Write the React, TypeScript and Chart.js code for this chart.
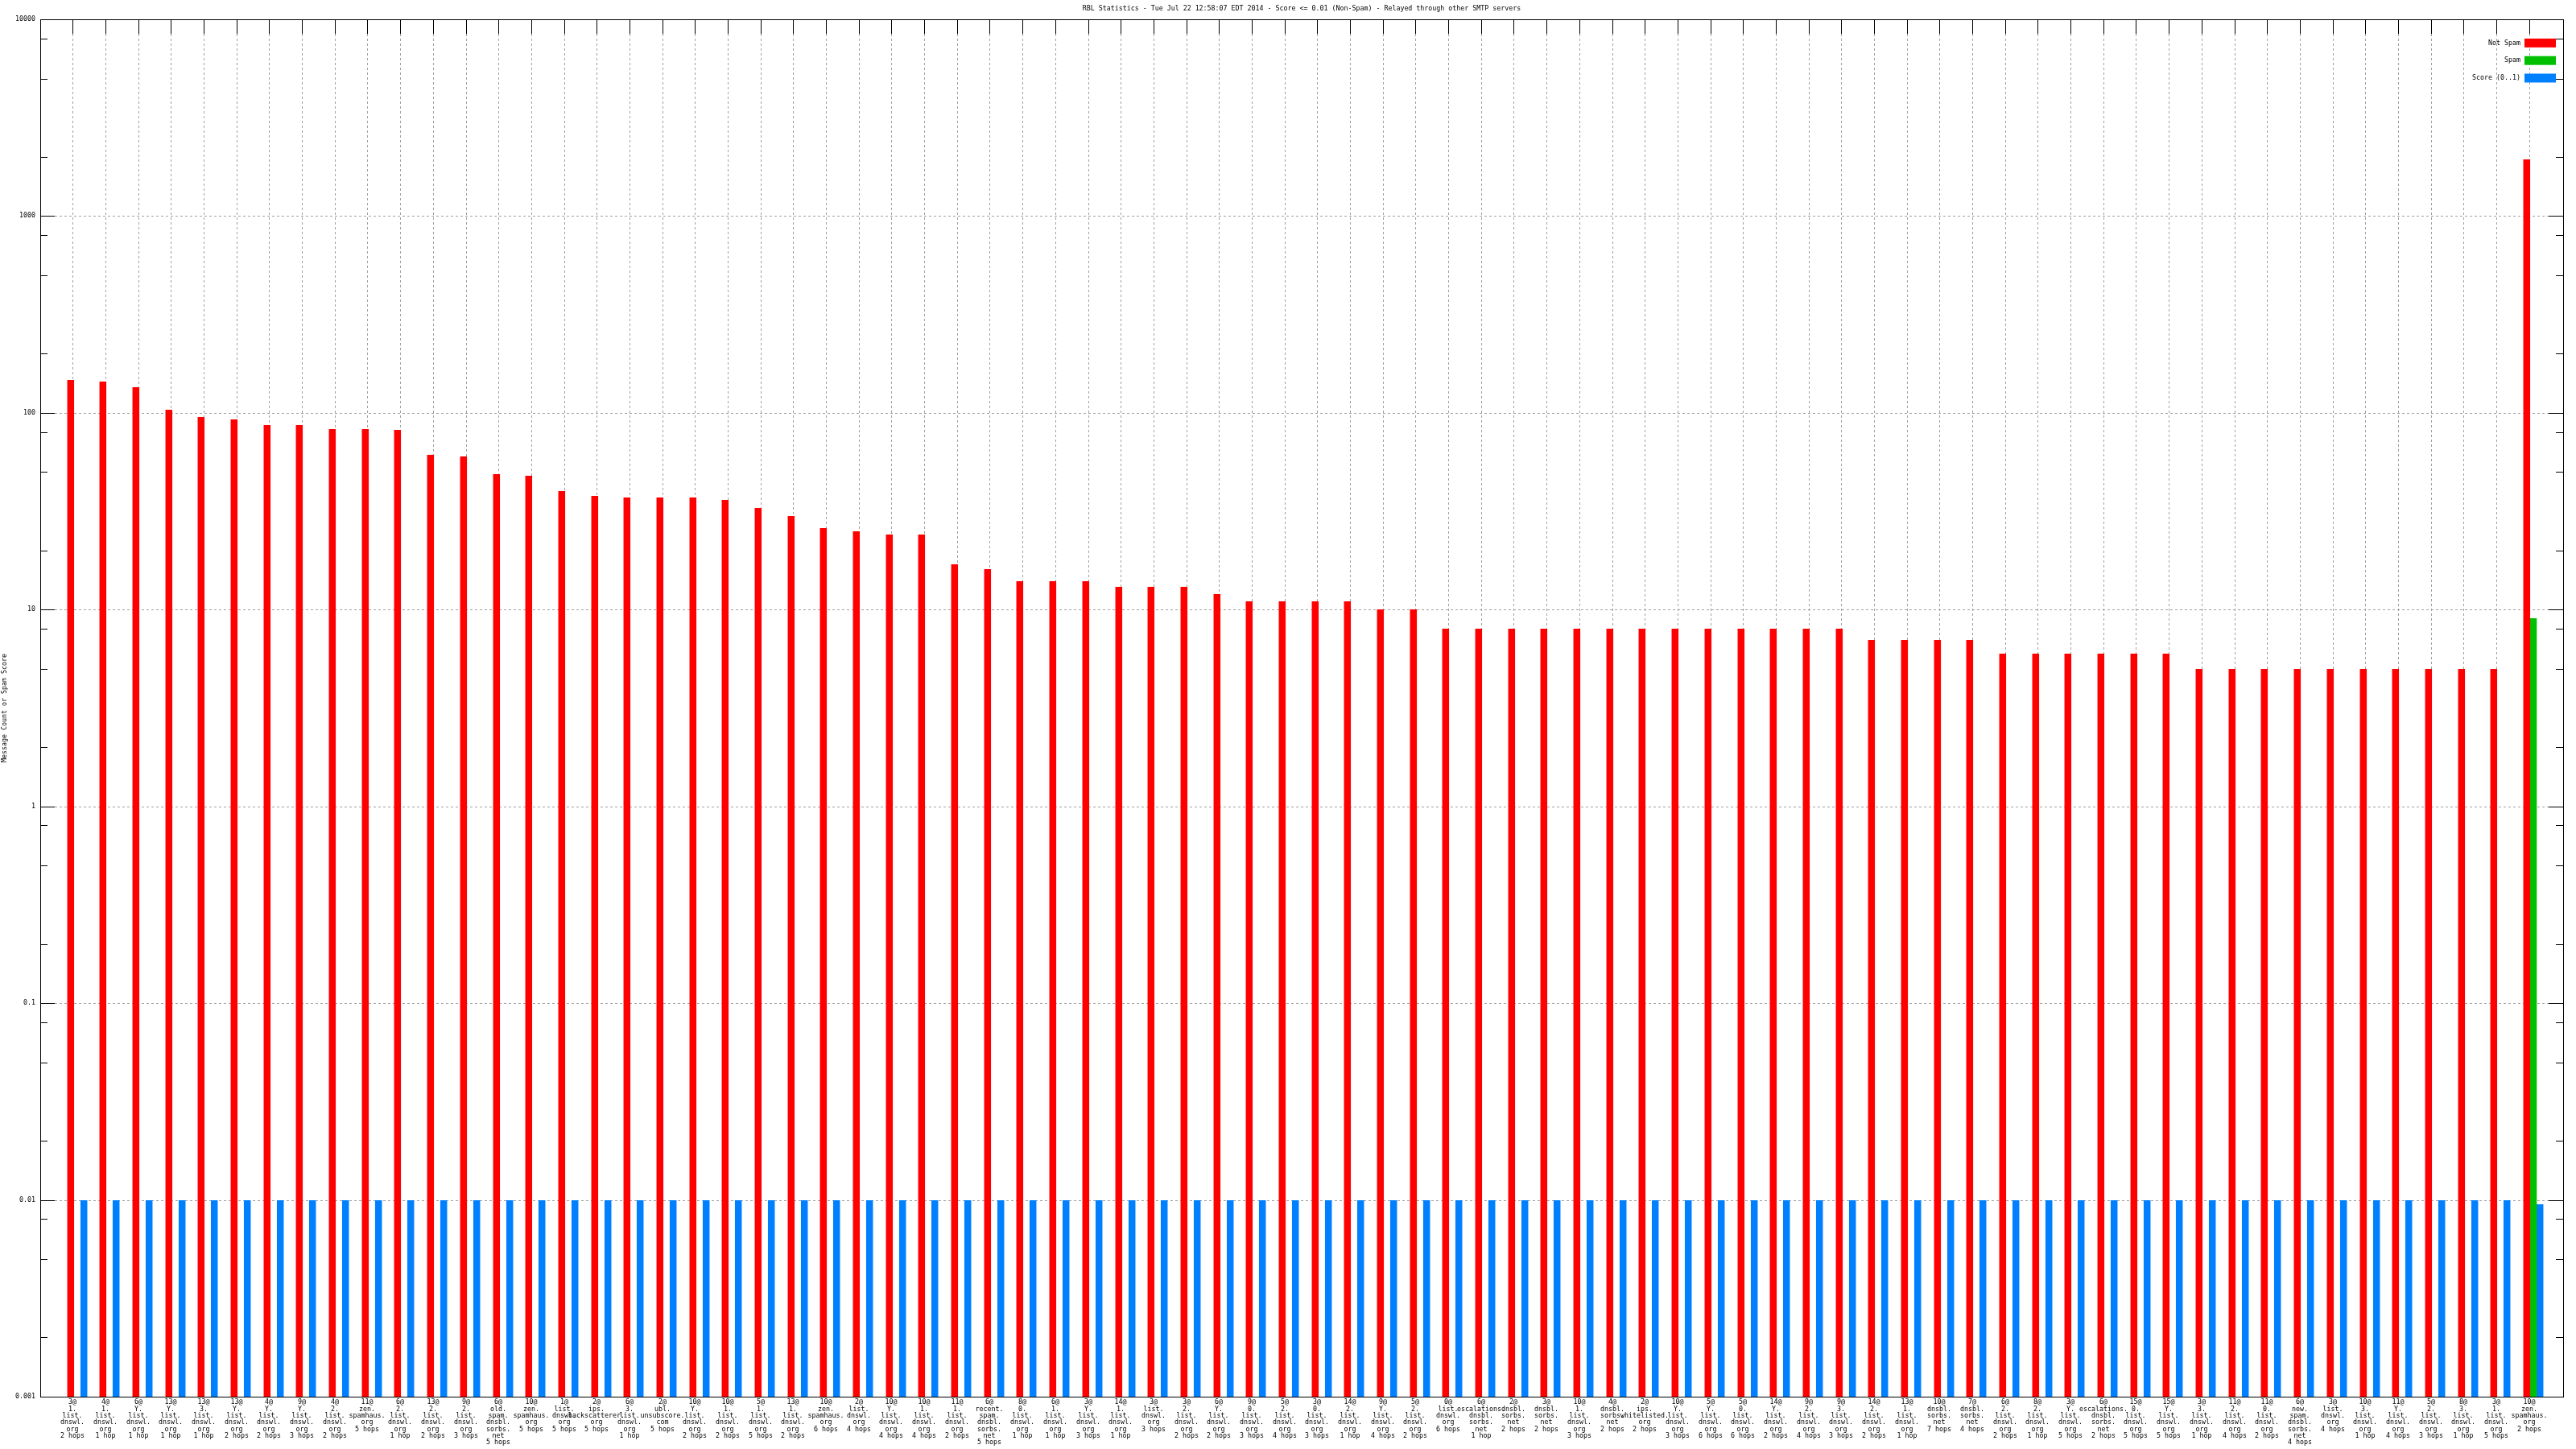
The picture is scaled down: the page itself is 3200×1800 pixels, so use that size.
import { useEffect, useRef } from "react";
import { Chart, registerables } from "chart.js";

Chart.register(...registerables);

const titleText =
  "RBL Statistics - Tue Jul 22 12:58:07 EDT 2014 - Score <= 0.01 (Non-Spam) - Relayed through other SMTP servers";
const yAxisTitle = "Message Count or Spam Score";
const seriesNames = ["Not Spam", "Spam", "Score (0..1)"];
const seriesColors = ["#ff0000", "#00c000", "#0080ff"];

const categories: string[] = [
  "3@\n1.\nlist.\ndnswl.\norg\n2 hops",
  "4@\n1.\nlist.\ndnswl.\norg\n1 hop",
  "6@\nY.\nlist.\ndnswl.\norg\n1 hop",
  "13@\nY.\nlist.\ndnswl.\norg\n1 hop",
  "13@\n3.\nlist.\ndnswl.\norg\n1 hop",
  "13@\nY.\nlist.\ndnswl.\norg\n2 hops",
  "4@\nY.\nlist.\ndnswl.\norg\n2 hops",
  "9@\nY.\nlist.\ndnswl.\norg\n3 hops",
  "4@\n2.\nlist.\ndnswl.\norg\n2 hops",
  "11@\nzen.\nspamhaus.\norg\n5 hops",
  "6@\n2.\nlist.\ndnswl.\norg\n1 hop",
  "13@\n2.\nlist.\ndnswl.\norg\n2 hops",
  "9@\n2.\nlist.\ndnswl.\norg\n3 hops",
  "6@\nold.\nspam.\ndnsbl.\nsorbs.\nnet\n5 hops",
  "10@\nzen.\nspamhaus.\norg\n5 hops",
  "1@\nlist.\ndnswl.\norg\n5 hops",
  "2@\nips.\nbackscatterer.\norg\n5 hops",
  "6@\n3.\nlist.\ndnswl.\norg\n1 hop",
  "2@\nubl.\nunsubscore.\ncom\n5 hops",
  "10@\nY.\nlist.\ndnswl.\norg\n2 hops",
  "10@\n1.\nlist.\ndnswl.\norg\n2 hops",
  "5@\n1.\nlist.\ndnswl.\norg\n5 hops",
  "13@\n1.\nlist.\ndnswl.\norg\n2 hops",
  "10@\nzen.\nspamhaus.\norg\n6 hops",
  "2@\nlist.\ndnswl.\norg\n4 hops",
  "10@\nY.\nlist.\ndnswl.\norg\n4 hops",
  "10@\n1.\nlist.\ndnswl.\norg\n4 hops",
  "11@\n1.\nlist.\ndnswl.\norg\n2 hops",
  "6@\nrecent.\nspam.\ndnsbl.\nsorbs.\nnet\n5 hops",
  "8@\n0.\nlist.\ndnswl.\norg\n1 hop",
  "6@\n1.\nlist.\ndnswl.\norg\n1 hop",
  "3@\nY.\nlist.\ndnswl.\norg\n3 hops",
  "14@\n1.\nlist.\ndnswl.\norg\n1 hop",
  "3@\nlist.\ndnswl.\norg\n3 hops",
  "3@\n2.\nlist.\ndnswl.\norg\n2 hops",
  "6@\nY.\nlist.\ndnswl.\norg\n2 hops",
  "9@\n0.\nlist.\ndnswl.\norg\n3 hops",
  "5@\n2.\nlist.\ndnswl.\norg\n4 hops",
  "3@\n0.\nlist.\ndnswl.\norg\n3 hops",
  "14@\n2.\nlist.\ndnswl.\norg\n1 hop",
  "9@\nY.\nlist.\ndnswl.\norg\n4 hops",
  "5@\n2.\nlist.\ndnswl.\norg\n2 hops",
  "0@\nlist.\ndnswl.\norg\n6 hops",
  "6@\nescalations.\ndnsbl.\nsorbs.\nnet\n1 hop",
  "2@\ndnsbl.\nsorbs.\nnet\n2 hops",
  "3@\ndnsbl.\nsorbs.\nnet\n2 hops",
  "10@\n1.\nlist.\ndnswl.\norg\n3 hops",
  "4@\ndnsbl.\nsorbs.\nnet\n2 hops",
  "2@\nips.\nwhitelisted.\norg\n2 hops",
  "10@\nY.\nlist.\ndnswl.\norg\n3 hops",
  "5@\nY.\nlist.\ndnswl.\norg\n6 hops",
  "5@\n0.\nlist.\ndnswl.\norg\n6 hops",
  "14@\nY.\nlist.\ndnswl.\norg\n2 hops",
  "9@\n2.\nlist.\ndnswl.\norg\n4 hops",
  "9@\n3.\nlist.\ndnswl.\norg\n3 hops",
  "14@\n2.\nlist.\ndnswl.\norg\n2 hops",
  "13@\n1.\nlist.\ndnswl.\norg\n1 hop",
  "10@\ndnsbl.\nsorbs.\nnet\n7 hops",
  "7@\ndnsbl.\nsorbs.\nnet\n4 hops",
  "6@\n2.\nlist.\ndnswl.\norg\n2 hops",
  "8@\n2.\nlist.\ndnswl.\norg\n1 hop",
  "3@\nY.\nlist.\ndnswl.\norg\n5 hops",
  "6@\nescalations.\ndnsbl.\nsorbs.\nnet\n2 hops",
  "15@\n0.\nlist.\ndnswl.\norg\n5 hops",
  "15@\nY.\nlist.\ndnswl.\norg\n5 hops",
  "3@\n3.\nlist.\ndnswl.\norg\n1 hop",
  "11@\n2.\nlist.\ndnswl.\norg\n4 hops",
  "11@\n0.\nlist.\ndnswl.\norg\n2 hops",
  "6@\nnew.\nspam.\ndnsbl.\nsorbs.\nnet\n4 hops",
  "3@\nlist.\ndnswl.\norg\n4 hops",
  "10@\n3.\nlist.\ndnswl.\norg\n1 hop",
  "11@\nY.\nlist.\ndnswl.\norg\n4 hops",
  "5@\n2.\nlist.\ndnswl.\norg\n3 hops",
  "8@\n3.\nlist.\ndnswl.\norg\n1 hop",
  "3@\n1.\nlist.\ndnswl.\norg\n5 hops",
  "10@\nzen.\nspamhaus.\norg\n2 hops",
];

const notSpam: number[] = [
  147, 144, 135, 104, 95, 93, 87, 87, 83, 83, 82, 61, 60, 49, 48, 40, 38, 37, 37, 37,
  36, 33, 30, 26, 25, 24, 24, 17, 16, 14, 14, 14, 13, 13, 13, 12, 11, 11, 11, 11,
  10, 10, 8, 8, 8, 8, 8, 8, 8, 8, 8, 8, 8, 8, 8, 7, 7, 7, 7, 6,
  6, 6, 6, 6, 6, 5, 5, 5, 5, 5, 5, 5, 5, 5, 5, 1950,
];

const spam: (number | null)[] = [
  null, null, null, null, null, null, null, null, null, null, null, null, null, null, null, null, null, null, null, null,
  null, null, null, null, null, null, null, null, null, null, null, null, null, null, null, null, null, null, null, null,
  null, null, null, null, null, null, null, null, null, null, null, null, null, null, null, null, null, null, null, null,
  null, null, null, null, null, null, null, null, null, null, null, null, null, null, null, 9,
];

const score: number[] = [
  0.01, 0.01, 0.01, 0.01, 0.01, 0.01, 0.01, 0.01, 0.01, 0.01, 0.01, 0.01, 0.01, 0.01, 0.01, 0.01, 0.01, 0.01, 0.01, 0.01,
  0.01, 0.01, 0.01, 0.01, 0.01, 0.01, 0.01, 0.01, 0.01, 0.01, 0.01, 0.01, 0.01, 0.01, 0.01, 0.01, 0.01, 0.01, 0.01, 0.01,
  0.01, 0.01, 0.01, 0.01, 0.01, 0.01, 0.01, 0.01, 0.01, 0.01, 0.01, 0.01, 0.01, 0.01, 0.01, 0.01, 0.01, 0.01, 0.01, 0.01,
  0.01, 0.01, 0.01, 0.01, 0.01, 0.01, 0.01, 0.01, 0.01, 0.01, 0.01, 0.01, 0.01, 0.01, 0.01, 0.0095,
];

const yTickValues = [0.001, 0.01, 0.1, 1, 10, 100, 1000, 10000];
const yTickLabels = ["0.001", "0.01", "0.1", "1", "10", "100", "1000", "10000"];
const yMinorMultipliers = [2, 5, 8];

const FONT_FAMILY = "'DejaVu Sans Mono', monospace";
const FONT_SIZE = 8.3;
const GRID_COLOR = "#a0a0a0";
const X_MIN = -1.121;
const X_MAX = 75.91;
const TICK_SHIFT = -0.13;

const framePlugin = {
  id: "gnuplotFrame",
  afterDraw(chart: any) {
    const { ctx, chartArea, scales } = chart;
    const { left, right, top, bottom } = chartArea;
    const xs = scales.x;
    const ys = scales.y;
    ctx.save();
    ctx.strokeStyle = "#000";
    ctx.lineWidth = 1;
    ctx.setLineDash([]);
    // frame
    ctx.strokeRect(Math.round(left) + 0.5, Math.round(top) + 0.5, Math.round(right - left), Math.round(bottom - top));
    ctx.beginPath();
    // y ticks (major + minor), inward on both sides
    for (const v of yTickValues) {
      const py = Math.round(ys.getPixelForValue(v)) + 0.5;
      ctx.moveTo(left, py);
      ctx.lineTo(left + 18, py);
      ctx.moveTo(right, py);
      ctx.lineTo(right - 18, py);
      if (v < 10000) {
        for (const m of yMinorMultipliers) {
          const pm = Math.round(ys.getPixelForValue(v * m)) + 0.5;
          ctx.moveTo(left, pm);
          ctx.lineTo(left + 9, pm);
          ctx.moveTo(right, pm);
          ctx.lineTo(right - 9, pm);
        }
      }
    }
    // x ticks on top border
    categories.forEach((_, i) => {
      const px = Math.round(xs.getPixelForValue(i + TICK_SHIFT)) + 0.5;
      ctx.moveTo(px, top);
      ctx.lineTo(px, top + 18);
    });
    ctx.stroke();

    // title
    ctx.fillStyle = "#000";
    ctx.font = `${FONT_SIZE}px ${FONT_FAMILY}`;
    ctx.textAlign = "center";
    ctx.textBaseline = "middle";
    ctx.fillText(titleText, (left + right) / 2, 11);

    // legend (text right-aligned, colour box on the right)
    chart.data.datasets.forEach((ds: any, i: number) => {
      const cy = top + 29.4 + i * 21.8;
      ctx.fillStyle = ds.backgroundColor;
      ctx.fillRect(right - 48, cy - 5.5, 39, 11);
      ctx.fillStyle = "#000";
      ctx.textAlign = "right";
      ctx.fillText(ds.label, right - 53, cy);
    });
    ctx.restore();
  },
};

export default function App() {
  const ref = useRef<HTMLCanvasElement>(null);

  useEffect(() => {
    if (!ref.current) return;
    const font = { family: FONT_FAMILY, size: FONT_SIZE, lineHeight: 1.0 };
    const barOpts = { categoryPercentage: 0.615, barPercentage: 1.04, borderWidth: 0 };
    const chart = new Chart(ref.current, {
      type: "bar",
      data: {
        labels: categories.map((_, i) => i),
        datasets: [
          { label: seriesNames[0], data: notSpam, backgroundColor: seriesColors[0], ...barOpts },
          { label: seriesNames[1], data: spam, backgroundColor: seriesColors[1], ...barOpts },
          { label: seriesNames[2], data: score, backgroundColor: seriesColors[2], ...barOpts },
        ],
      } as any,
      options: {
        animation: false,
        responsive: false,
        maintainAspectRatio: false,
        devicePixelRatio: 1,
        layout: { padding: { top: 24, right: 16, left: 0, bottom: 0 } },
        plugins: {
          legend: { display: false },
          title: { display: false },
          tooltip: { enabled: false },
        },
        scales: {
          x: {
            type: "linear",
            min: X_MIN,
            max: X_MAX,
            offset: false,
            alignToPixels: true,
            afterBuildTicks: (scale: any) => {
              scale.ticks = categories.map((_, i) => ({ value: i + TICK_SHIFT }));
            },
            afterFit: (scale: any) => {
              scale.height = 65;
            },
            ticks: {
              autoSkip: false,
              maxRotation: 0,
              minRotation: 0,
              padding: 3,
              color: "#000",
              font,
              callback: (_v: any, index: number) => categories[index].split("\n"),
            },
            grid: { color: GRID_COLOR, lineWidth: 1, drawTicks: false, offset: false },
            border: { display: false, dash: [3, 3] },
          },
          y: {
            type: "logarithmic",
            min: 0.001,
            max: 10000,
            alignToPixels: true,
            afterBuildTicks: (scale: any) => {
              scale.ticks = yTickValues.map((v) => ({ value: v, major: true }));
            },
            afterFit: (scale: any) => {
              scale.width = 50;
            },
            ticks: {
              autoSkip: false,
              padding: 6,
              color: "#000",
              font,
              callback: (_v: any, index: number) => yTickLabels[index],
            },
            grid: {
              color: (c: any) =>
                c.tick && (c.tick.value === 0.001 || c.tick.value === 10000) ? "rgba(0,0,0,0)" : GRID_COLOR,
              lineWidth: 1,
              drawTicks: false,
            },
            border: { display: false, dash: [3, 3] },
            title: {
              display: true,
              text: yAxisTitle,
              color: "#000",
              font,
              padding: { top: 2, bottom: 0 },
            },
          },
        },
      } as any,
      plugins: [framePlugin],
    });
    return () => chart.destroy();
  }, []);

  return (
    <div style={{ position: "fixed", left: 0, top: 0, width: 3200, height: 1800, background: "#fff" }}>
      <canvas ref={ref} width={3200} height={1800} style={{ display: "block", width: 3200, height: 1800 }} />
    </div>
  );
}
